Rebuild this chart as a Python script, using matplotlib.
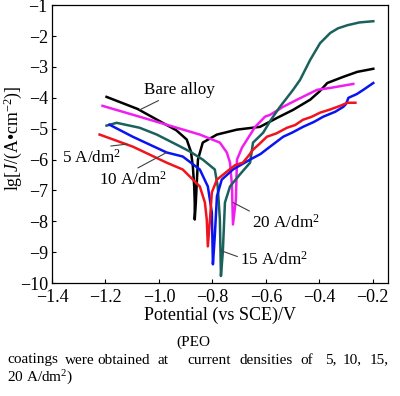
import matplotlib
matplotlib.use("Agg")
import matplotlib.pyplot as plt

plt.rcParams['font.family'] = ['Liberation Serif', 'DejaVu Serif']
plt.rcParams['mathtext.fontset'] = 'custom'
plt.rcParams['mathtext.rm'] = 'Liberation Serif'
plt.rcParams['mathtext.it'] = 'Liberation Serif:italic'

# Bare alloy
bare_v = [-1.196, -1.08, -0.986, -0.935, -0.896, -0.880, -0.873, -0.868, -0.866, -0.866,
          -0.862, -0.859, -0.854, -0.836, -0.783, -0.708, -0.622, -0.558, -0.498, -0.434,
          -0.400, -0.370, -0.310, -0.258, -0.198]
bare_j = [-3.97, -4.36, -4.81, -5.05, -5.35, -5.75, -6.23, -6.87, -7.40, -7.94,
          -7.40, -6.86, -6.00, -5.45, -5.19, -5.03, -4.94, -4.65, -4.39, -4.06,
          -3.80, -3.52, -3.32, -3.16, -3.06]

# 5 A/dm2
a5_v = [-1.222, -1.098, -0.971, -0.911, -0.847, -0.828, -0.821, -0.817,
        -0.809, -0.802, -0.783, -0.746, -0.715, -0.686, -0.665, -0.648, -0.625, -0.596,
        -0.560, -0.521, -0.490, -0.461, -0.430, -0.397, -0.360, -0.322, -0.295, -0.265]
a5_j = [-5.19, -5.58, -6.10, -6.32, -6.87, -7.39, -7.94, -8.81,
        -7.94, -7.06, -6.65, -6.39, -6.18, -6.10, -5.88, -5.68, -5.50, -5.26,
        -5.15, -4.97, -4.88, -4.71, -4.62, -4.48, -4.38, -4.26, -4.16, -4.16]

# 10 A/dm2
a10_v = [-1.185, -1.098, -0.971, -0.911, -0.847, -0.817, -0.802, -0.798,
         -0.791, -0.783, -0.765, -0.723, -0.659, -0.620, -0.584, -0.535, -0.500, -0.461,
         -0.420, -0.385, -0.340, -0.310, -0.300, -0.291, -0.260, -0.235, -0.198]
a10_j = [-4.87, -5.26, -5.77, -5.90, -6.32, -6.87, -7.71, -9.39,
         -8.48, -7.19, -6.65, -6.32, -6.00, -5.82, -5.58, -5.26, -5.12, -4.94,
         -4.78, -4.61, -4.45, -4.29, -4.20, -4.00, -3.88, -3.74, -3.52]

# 15 A/dm2
a15_v = [-1.196, -1.158, -1.072, -1.008, -0.933, -0.884, -0.836, -0.791, -0.780, -0.772, -0.768,
         -0.761, -0.753, -0.734, -0.697, -0.659, -0.648, -0.610, -0.580, -0.547, -0.498,
         -0.472, -0.434, -0.397, -0.359, -0.330, -0.295, -0.250, -0.198]
a15_j = [-4.90, -4.81, -4.97, -5.19, -5.52, -5.74, -6.00, -6.32, -6.87, -7.94, -9.77,
         -9.00, -7.39, -6.87, -6.48, -6.10, -5.45, -5.13, -4.70, -4.29, -3.74,
         -3.42, -2.77, -2.23, -1.90, -1.75, -1.65, -1.56, -1.52]

# 20 A/dm2
a20_v = [-1.211, -1.034, -0.847, -0.772, -0.746, -0.734, -0.727, -0.723,
         -0.712, -0.708, -0.689, -0.640, -0.603, -0.584, -0.535, -0.483, -0.408,
         -0.359, -0.273]
a20_j = [-4.26, -4.71, -5.19, -5.45, -5.77, -6.10, -6.81, -8.10,
         -7.29, -6.00, -5.61, -4.94, -4.61, -4.55, -4.29, -4.06, -3.74,
         -3.68, -3.55]

xticks = [-1.4, -1.2, -1.0, -0.8, -0.6, -0.4, -0.2]
yticks = [-10, -9, -8, -7, -6, -5, -4, -3, -2, -1]

fig = plt.figure(figsize=(4.0, 3.96), dpi=100)
ax = fig.add_axes([0.13, 0.285, 0.84, 0.702])

lw = 1.8
ax.plot(bare_v, bare_j, color='black', lw=lw)
ax.plot(a20_v, a20_j, color='#f01ef0', lw=lw)
ax.plot(a15_v, a15_j, color='#1b615b', lw=lw)
ax.plot(a10_v, a10_j, color='#0a14f0', lw=lw)
ax.plot(a5_v, a5_j, color='#f0141e', lw=lw)

ax.set_xlim(-1.4, -0.143)
ax.set_ylim(-10, -1)
ax.set_xticks(xticks)
ax.set_xticklabels(['\u2212%.1f' % abs(t) for t in xticks])
ax.set_yticks(yticks)
ax.set_yticklabels(['\u2212%d' % abs(t) for t in yticks])
ax.tick_params(direction='in', length=3, labelsize=13, pad=3, width=0.8)
ax.tick_params(axis='x', pad=4)
for s in ax.spines.values():
    s.set_linewidth(0.9)

ax.set_xlabel('Potential (vs SCE)/V', fontsize=13, labelpad=1)
ax.set_ylabel('lg[$J$/(A\u2022cm$^{-2}$)]', fontsize=12.8, va='center')
ax.yaxis.set_label_coords(-0.118, 0.52)

fs = 12.3
lc = '#404040'
ap = dict(arrowstyle='-', color=lc, lw=0.8, shrinkA=0, shrinkB=0)
ax.annotate('Bare alloy', xy=(-1.072, -4.39), xytext=(-0.922, -3.74),
            fontsize=fs, ha='center', va='center',
            arrowprops=dict(ap, relpos=(0.28, 0.0)))
ax.annotate(r'5 A/dm$^2$', xy=(-1.12, -5.50), xytext=(-1.252, -5.94),
            fontsize=fs, ha='center', va='center',
            arrowprops=dict(ap, relpos=(0.42, 1.0)))
ax.annotate(r'10 A/dm$^2$', xy=(-0.971, -5.77), xytext=(-1.098, -6.65),
            fontsize=fs, ha='center', va='center',
            arrowprops=dict(ap, relpos=(0.5, 1.0)))
ax.annotate(r'20 A/dm$^2$', xy=(-0.723, -7.39), xytext=(-0.524, -8.03),
            fontsize=fs, ha='center', va='center',
            arrowprops=dict(ap, relpos=(0.05, 0.95)))
ax.annotate(r'15 A/dm$^2$', xy=(-0.767, -8.95), xytext=(-0.569, -9.23),
            fontsize=fs, ha='center', va='center',
            arrowprops=dict(ap, relpos=(0.0, 0.6)))

cfs = 11
fig.text(193 / 400, 1 - 342 / 396, '(PEO', fontsize=cfs, ha='center', va='center')
words = ['coatings', 'were', 'obtained', 'at', 'current', 'densities', 'of', '5,', '10,', '15,']
wx = [7, 65, 97, 157, 187, 240, 300, 325, 343, 370]
for w, x in zip(words, wx):
    fig.text(x / 400, 1 - 360 / 396, w, fontsize=cfs, ha='left', va='center')
fig.text(7 / 400, 1 - 378 / 396, r'20 A/dm$^2$)', fontsize=cfs, ha='left', va='center')

fig.savefig('out.png', dpi=100)
